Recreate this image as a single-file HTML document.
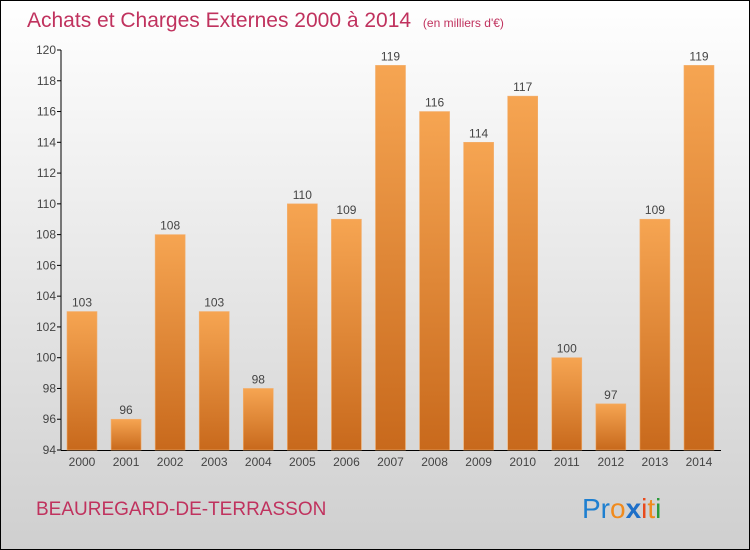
<!DOCTYPE html>
<html><head><meta charset="utf-8"><style>
body{margin:0}
svg{display:block;font-family:"Liberation Sans","DejaVu Sans",sans-serif}
</style></head><body>
<svg id="c" width="750" height="550" xmlns="http://www.w3.org/2000/svg">
<defs>
<linearGradient id="bg" x1="0" y1="0" x2="0" y2="1"><stop offset="0" stop-color="#ffffff"/><stop offset="1" stop-color="#cfcfcf"/></linearGradient>
<linearGradient id="bar" x1="0" y1="0" x2="0" y2="1"><stop offset="0" stop-color="#f6a552"/><stop offset="1" stop-color="#c8691c"/></linearGradient>
</defs>
<rect x="0.5" y="0.5" width="749" height="549" fill="url(#bg)" stroke="#000"/>
<text x="27" y="27" font-size="21" fill="#c0325e">Achats et Charges Externes 2000 à 2014 <tspan font-size="12" dx="6">(en milliers d'€)</tspan></text>
<g id="plot"></g>
<text x="36" y="515" font-size="19" fill="#c0325e">BEAUREGARD-DE-TERRASSON</text>
<text x="582" y="518" font-size="28"><tspan fill="#1e7fd0">Pr</tspan><tspan fill="#f08a1c">o</tspan><tspan fill="#1e6fc8" font-weight="bold">x</tspan><tspan fill="#e84a1c">i</tspan><tspan fill="#f08a1c">t</tspan><tspan fill="#2a9a3a">i</tspan></text>
</svg>
<script>
const years=["2000","2001","2002","2003","2004","2005","2006","2007","2008","2009","2010","2011","2012","2013","2014"];
const values=[103,96,108,103,98,110,109,119,116,114,117,100,97,109,119];
const yTicks=[94,96,98,100,102,104,106,108,110,112,114,116,118,120];
const NS="http://www.w3.org/2000/svg";
const g=document.getElementById('plot');
const y0=450,y1=50,vmin=94,vmax=120;
const ys=v=>y0-(v-vmin)/(vmax-vmin)*(y0-y1);
const xs=i=>82+i*44.07;
function mk(t,a){const e=document.createElementNS(NS,t);for(const k in a)e.setAttribute(k,a[k]);g.appendChild(e);return e;}
let ax=mk('line',{x1:61,y1:y1,x2:61,y2:y0,stroke:'#000'});


let bx=mk('line',{x1:61,y1:y0+0.5,x2:721,y2:y0+0.5,stroke:'#000'});


yTicks.forEach(v=>{
 const y=ys(v);
 let t=mk('line',{x1:57,y1:y,x2:61,y2:y,stroke:'#000'});
 
 
 let l=mk('text',{x:56,y:y+4,'font-size':12,'text-anchor':'end',fill:'#444'});l.textContent=v;
 
 
});
values.forEach((v,i)=>{
 const x=xs(i),y=ys(v);
 let r=mk('rect',{x:x-15,y:y,width:30,height:y0-y,fill:'url(#bar)',stroke:'#f2b070','stroke-width':0.6});
 
 
 let l=mk('text',{x:x,y:y-5,'font-size':12,'text-anchor':'middle',fill:'#444'});l.textContent=v;
 
 
 let xl=mk('text',{x:x,y:466,'font-size':12,'text-anchor':'middle',fill:'#444'});xl.textContent=years[i];
 
 
});
</script>
</body></html>
